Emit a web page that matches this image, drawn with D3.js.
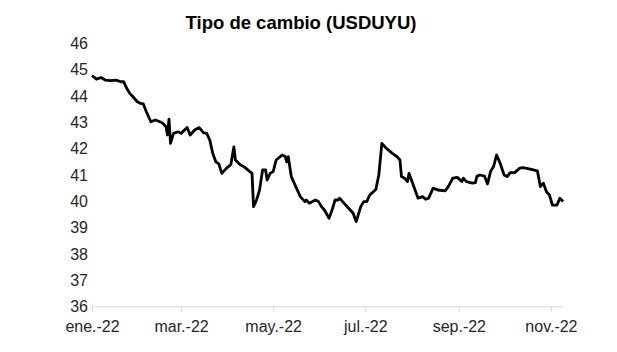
<!DOCTYPE html>
<html>
<head>
<meta charset="utf-8">
<script src="https://cdn.jsdelivr.net/npm/d3@7"></script>
<style>
  body { margin: 0; background: #fff; }
  text { font-family: "Liberation Sans", Arial, sans-serif; }
</style>
</head>
<body>
<div id="chart"></div>
<script>
// Set up SVG dimensions
const w = 617;
const h = 352;
const margin = {top: 43.3, right: 54, bottom: 45.3, left: 92};

// Data
const dates = [
  "2022-01-03","2022-01-06","2022-01-09","2022-01-12","2022-01-15","2022-01-19","2022-01-22","2022-01-24","2022-01-26","2022-01-28",
  "2022-01-30","2022-02-02","2022-02-04","2022-02-06","2022-02-08","2022-02-11","2022-02-14","2022-02-17","2022-02-19","2022-02-21",
  "2022-02-22","2022-02-23","2022-02-24","2022-02-26","2022-03-01","2022-03-03","2022-03-07","2022-03-09","2022-03-12","2022-03-15",
  "2022-03-18","2022-03-20","2022-03-22","2022-03-24","2022-03-26","2022-03-28","2022-03-30","2022-04-02","2022-04-05","2022-04-07",
  "2022-04-08","2022-04-11","2022-04-14","2022-04-19","2022-04-20","2022-04-22","2022-04-24","2022-04-26","2022-04-28","2022-04-29",
  "2022-05-01","2022-05-03","2022-05-05","2022-05-09","2022-05-11","2022-05-12","2022-05-13","2022-05-15","2022-05-18","2022-05-19",
  "2022-05-21","2022-05-24","2022-05-25","2022-05-27","2022-05-31","2022-06-02","2022-06-04","2022-06-06","2022-06-09","2022-06-11",
  "2022-06-13","2022-06-15","2022-06-16","2022-06-18","2022-06-22","2022-06-25","2022-06-27","2022-06-30","2022-07-02","2022-07-04",
  "2022-07-06","2022-07-10","2022-07-12","2022-07-14","2022-07-17","2022-07-21","2022-07-24","2022-07-26","2022-07-27","2022-07-29",
  "2022-07-31","2022-08-01","2022-08-03","2022-08-05","2022-08-07","2022-08-10","2022-08-12","2022-08-14","2022-08-17","2022-08-20",
  "2022-08-25","2022-08-27","2022-08-30","2022-09-02","2022-09-05","2022-09-06","2022-09-08","2022-09-12","2022-09-14","2022-09-15",
  "2022-09-17","2022-09-20","2022-09-22","2022-09-24","2022-09-26","2022-09-28","2022-09-30","2022-10-03","2022-10-05","2022-10-07",
  "2022-10-10","2022-10-13","2022-10-15","2022-10-18","2022-10-21","2022-10-25","2022-10-27","2022-10-29","2022-10-31","2022-11-02",
  "2022-11-04","2022-11-07","2022-11-09","2022-11-11"
];
const usduyu = [
  44.77,44.64,44.70,44.60,44.58,44.60,44.54,44.54,44.29,44.10,
  43.98,43.78,43.72,43.70,43.40,43.02,43.09,43.02,42.96,42.83,
  42.52,43.12,42.20,42.58,42.64,42.58,42.80,42.52,42.71,42.80,
  42.60,42.58,42.33,41.82,41.50,41.42,41.06,41.25,41.40,42.07,
  41.57,41.40,41.30,41.06,39.80,40.05,40.43,41.19,41.19,40.81,
  41.06,41.13,41.57,41.76,41.70,41.50,41.70,40.94,40.56,40.43,
  40.18,39.99,40.05,39.93,40.05,39.99,39.80,39.67,39.36,39.67,
  40.05,40.05,40.12,39.99,39.74,39.55,39.23,39.80,39.99,39.99,
  40.24,40.45,41.00,42.20,42.01,41.82,41.70,41.57,40.94,40.88,
  40.75,41.06,40.75,40.43,40.12,40.18,40.08,40.12,40.50,40.43,
  40.40,40.56,40.88,40.91,40.75,40.88,40.75,40.69,40.71,40.96,
  41.00,40.96,40.66,41.13,41.32,41.76,41.50,41.00,40.94,41.09,
  41.09,41.25,41.28,41.25,41.21,41.16,40.56,40.69,40.37,40.24,
  39.86,39.86,40.12,39.99
];
const yTicks = [36, 37, 38, 39, 40, 41, 42, 43, 44, 45, 46];
const xTicks = ["2022-01-03","2022-03-03","2022-05-03","2022-07-03","2022-09-03","2022-11-03"];
const monthNames = ["ene.","feb.","mar.","abr.","may.","jun.","jul.","ago.","sep.","oct.","nov.","dic."];

const parse = d3.timeParse("%Y-%m-%d");
const dataset = dates.map((d, i) => ({date: parse(d), value: usduyu[i]}));

const svg = d3.select("#chart")
  .append("svg")
  .attr("width", w)
  .attr("height", h)
  .style("background-color", "white");

// Scales
const xScale = d3.scaleTime()
  .domain(d3.extent(dataset, d => d.date))
  .range([margin.left, w - margin.right]);

const yScale = d3.scaleLinear()
  .domain([36, 46])
  .range([h - margin.bottom, margin.top]);

// Title
svg.append("text")
  .attr("x", 301)
  .attr("y", 29)
  .attr("text-anchor", "middle")
  .style("font-size", "18.5px")
  .style("font-weight", "bold")
  .attr("fill", "#000")
  .text("Tipo de cambio (USDUYU)");

// Y axis (labels only)
const yAxis = d3.axisLeft(yScale).tickValues(yTicks).tickSize(0).tickPadding(4);
const gy = svg.append("g")
  .attr("transform", "translate(" + margin.left + ",0)")
  .call(yAxis);
gy.select(".domain").remove();
gy.selectAll("text").style("font-size", "16px").attr("fill", "#262626");

// X axis
const xAxis = d3.axisBottom(xScale)
  .tickValues(xTicks.map(parse))
  .tickSize(5)
  .tickPadding(9)
  .tickFormat(d => monthNames[d.getMonth()] + "-" + d3.timeFormat("%y")(d));
const gx = svg.append("g")
  .attr("transform", "translate(0," + yScale(36) + ")")
  .call(xAxis);
gx.select(".domain").attr("stroke", "#d9d9d9").attr("d", "M" + xScale.range()[0] + ",0H" + xScale.range()[1]);
gx.selectAll(".tick line").attr("stroke", "#d9d9d9");
gx.selectAll("text").style("font-size", "16px").attr("fill", "#262626");

// Line
const line = d3.line()
  .x(d => xScale(d.date))
  .y(d => yScale(d.value));

svg.append("path")
  .datum(dataset)
  .attr("d", line)
  .attr("fill", "none")
  .attr("stroke", "#000")
  .attr("stroke-width", 2.8)
  .attr("stroke-linejoin", "round");
</script>
</body>
</html>
